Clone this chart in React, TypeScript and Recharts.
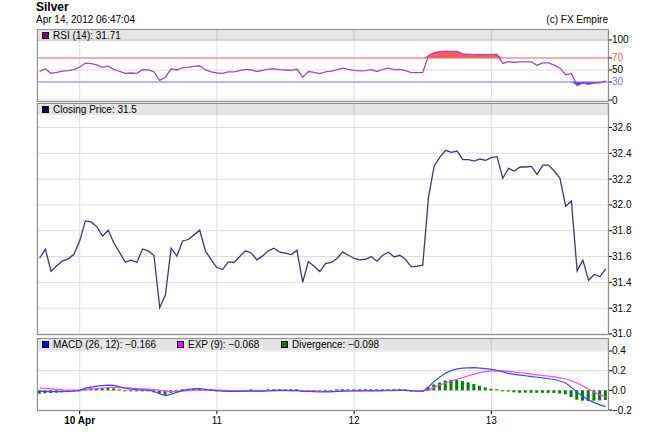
import React from "react";
import {
  ComposedChart,
  Line,
  Area,
  Bar,
  XAxis,
  YAxis,
  CartesianGrid,
  ReferenceLine,
} from "recharts";

// hours relative to 10 Apr 00:00
const HOURS = Array.from({ length: 100 }, (_, i) => i - 7);
const DAY_TICKS = [0, 24, 48, 72];
const DAY_LABELS = ["10 Apr", "11", "12", "13"];

const CLOSE = [
  31.587, 31.657, 31.486, 31.528, 31.566, 31.582, 31.618, 31.72, 31.876, 31.868,
  31.832, 31.757, 31.804, 31.703, 31.631, 31.556, 31.572, 31.554, 31.659, 31.644,
  31.608, 31.205, 31.303, 31.665, 31.603, 31.721, 31.732, 31.768, 31.804, 31.644,
  31.574, 31.515, 31.499, 31.559,
  31.554, 31.6, 31.644, 31.628, 31.574, 31.605, 31.644, 31.665, 31.634, 31.626,
  31.615, 31.649, 31.401, 31.561, 31.525, 31.484, 31.546, 31.554, 31.585, 31.636,
  31.61, 31.585, 31.574, 31.579, 31.6, 31.564, 31.61, 31.634, 31.597, 31.61,
  31.577, 31.52, 31.525,
  31.533, 32.057, 32.302, 32.371, 32.423, 32.408, 32.418, 32.351, 32.351, 32.34,
  32.356, 32.346, 32.366, 32.374, 32.206, 32.284, 32.263, 32.294, 32.294, 32.299,
  32.235, 32.309, 32.309, 32.263, 32.206, 31.99, 32.031, 31.489, 31.572, 31.417,
  31.461, 31.445, 31.505,
];

const RSI = [
  47.7, 51.7, 44.4, 46, 48, 49, 50.5, 55, 61.5, 60.5, 58.5, 54.5, 56.5, 51, 47.5,
  44.5, 45, 44.5, 50.5, 50, 47, 32.5, 38, 52, 50, 54, 54.5, 56, 57, 50, 47, 45,
  44.5, 47,
  47, 49, 51, 50, 47.5, 49.5, 51.5, 52, 50.5, 50, 49.5, 51.5, 38, 47.5, 46, 44,
  47, 48, 50, 53, 51, 49.5, 48.5, 49, 50.5, 47.5, 51, 53, 50.5, 51, 49, 45.5, 45.5,
  46, 74, 79, 80.5, 81.5, 81, 81, 77, 76.5, 75.5, 76, 75.5, 76, 76, 61, 64, 62.5,
  63.5, 63.5, 63.5, 58, 62, 62, 58, 53, 42, 44, 24, 28, 26, 28, 28.5, 31.71,
];

const MACD = [
  -0.01, -0.011, -0.013, -0.014, -0.014, -0.012, -0.008, 0.0, 0.022, 0.033, 0.042,
  0.048, 0.052, 0.05, 0.035, 0.022, 0.013, 0.008, 0.005, 0.002, -0.012, -0.035,
  -0.053, -0.038, -0.02, 0.0, 0.01, 0.015, 0.017, 0.01, 0.003, -0.003, -0.008, -0.01,
  -0.011, -0.01, -0.007, -0.006, -0.008, -0.007, -0.004, -0.001, -0.001, -0.001,
  -0.002, 0.0, -0.012, -0.012, -0.014, -0.017, -0.016, -0.015, -0.011, -0.006,
  -0.004, -0.004, -0.004, -0.004, -0.003, -0.004, -0.002, 0.001, 0.001, 0.002, 0.0,
  -0.005, -0.009,
  -0.011, 0.035, 0.09, 0.135, 0.175, 0.2, 0.218, 0.225, 0.229, 0.23, 0.226, 0.22,
  0.213, 0.203, 0.188, 0.173, 0.163, 0.155, 0.148, 0.14, 0.133, 0.126, 0.118, 0.11,
  0.095, 0.075, 0.03, -0.02, -0.06, -0.097, -0.125, -0.148, -0.166,
];

const EXP = [
  0.025, 0.019, 0.014, 0.009, 0.005, 0.003, 0.002, 0.002, 0.006, 0.012, 0.018,
  0.024, 0.029, 0.03, 0.029, 0.026, 0.022, 0.018, 0.015, 0.012, 0.008, 0.0, -0.008,
  -0.012, -0.012, -0.008, -0.004, -0.001, 0.002, 0.003, 0.003, 0.002, 0.0, -0.003,
  -0.005, -0.006, -0.006, -0.006, -0.006, -0.006, -0.006, -0.005, -0.004, -0.003,
  -0.003, -0.002, -0.004, -0.006, -0.007, -0.009, -0.011, -0.012, -0.011, -0.01,
  -0.009, -0.008, -0.007, -0.006, -0.005, -0.005, -0.004, -0.003, -0.002, -0.001,
  -0.001, -0.002, -0.003,
  -0.004, 0.003, 0.03, 0.055, 0.075, 0.095, 0.113, 0.13, 0.148, 0.165, 0.18, 0.19,
  0.197, 0.2, 0.198, 0.192, 0.186, 0.179, 0.172, 0.165, 0.158, 0.151, 0.144, 0.136,
  0.127, 0.115, 0.098, 0.075, 0.045, 0.012, -0.02, -0.046, -0.068,
];

const DIVERGENCE = [
  -0.035, -0.03, -0.027, -0.023, -0.019, -0.015, -0.01, -0.002, 0.016, 0.021, 0.024,
  0.024, 0.023, 0.02, 0.006, -0.004, -0.009, -0.01, -0.01, -0.01, -0.02, -0.035,
  -0.045, -0.026, -0.008, 0.008, 0.014, 0.016, 0.015, 0.007, 0.0, -0.005, -0.008,
  -0.007,
  -0.006, -0.004, -0.001, 0.0, -0.002, -0.001, 0.002, 0.004, 0.003, 0.002, 0.001,
  0.002, -0.008, -0.006, -0.007, -0.008, -0.005, -0.003, 0.0, 0.004, 0.005, 0.004,
  0.003, 0.002, 0.002, 0.001, 0.002, 0.004, 0.003, 0.003, 0.001, -0.003, -0.006,
  -0.007, 0.032, 0.06, 0.08, 0.1, 0.105, 0.105, 0.095, 0.081, 0.065, 0.046, 0.03,
  0.016, 0.006, -0.004, -0.012, -0.02, -0.024, -0.024, -0.025, -0.025, -0.025,
  -0.026, -0.026, -0.032, -0.04, -0.068, -0.095, -0.105, -0.109, -0.105, -0.102,
  -0.098,
];

const RSI_TICKS = [0, 30, 50, 70, 100];
const PRICE_TICKS = [31.0, 31.2, 31.4, 31.6, 31.8, 32.0, 32.2, 32.4, 32.6];
const MACD_TICKS = [-0.2, 0.0, 0.2, 0.4];

const rows = HOURS.map((t, i) => ({
  t,
  close: CLOSE[i],
  rsi: RSI[i],
  ob: [70, Math.max(RSI[i], 70)],
  os: [Math.min(RSI[i], 30), 30],
  macd: MACD[i],
  exp: EXP[i],
  div: DIVERGENCE[i],
}));

const FONT = '"Liberation Sans", Arial, sans-serif';
const X_DOMAIN: [number, number] = [-7.46, 92.4];
const GRID = "#dddddd";
// extra room under a panel so its lowest tick label is not clipped
const PAD = 7;

const minus = (s: string) => s.replace("-", "\u2212");

const RsiTick = (props: any) => {
  const { x, y, payload } = props;
  const v = payload.value;
  const fill = v === 70 ? "#ff6060" : v === 30 ? "#7070ff" : "#000";
  return (
    <text x={x} y={y} dy={3.5} fontSize={10} fill={fill} fontFamily={FONT}>
      {v}
    </text>
  );
};

const NumTick = (props: any) => {
  const { x, y, payload } = props;
  return (
    <text x={x} y={y} dy={3.5} fontSize={10} fill="#000" fontFamily={FONT}>
      {minus(payload.value.toFixed(1))}
    </text>
  );
};

const DayTick = (props: any) => {
  const { x, y, payload } = props;
  const i = DAY_TICKS.indexOf(payload.value);
  return (
    <text
      x={x}
      y={y}
      dy={8}
      fontSize={10}
      textAnchor="middle"
      fontWeight={i === 0 ? "bold" : "normal"}
      fill="#000"
      fontFamily={FONT}
    >
      {DAY_LABELS[i]}
    </text>
  );
};

function Header({ top, items }: { top: number; items: any[] }) {
  return (
    <div
      style={{
        position: "absolute",
        left: 38,
        top,
        width: 570,
        height: 11,
        background: "rgba(0,0,0,0.1)",
      }}
    >
      {items.map((it, i) => (
        <div
          key={i}
          style={{
            position: "absolute",
            left: it.x - 38,
            top: 0,
            height: 11,
            lineHeight: "11px",
            fontSize: 10,
            whiteSpace: "nowrap",
          }}
        >
          <span
            style={{
              display: "inline-block",
              width: 5,
              height: 5,
              background: it.color,
              border: "1px solid #000",
              marginRight: 4,
            }}
          />
          {it.label}
        </div>
      ))}
    </div>
  );
}

function Box({ top, height }: { top: number; height: number }) {
  return (
    <div
      style={{
        position: "absolute",
        left: 37,
        top,
        width: 570,
        height: height - 2,
        border: "1px solid #8c8c8c",
      }}
    />
  );
}

export default function App() {
  return (
    <div
      style={{
        position: "absolute",
        left: 0,
        top: 0,
        width: 645,
        height: 442,
        background: "#fff",
        fontFamily: FONT,
        color: "#000",
      }}
    >
      <div style={{ position: "absolute", left: 36, top: 0, fontSize: 12, fontWeight: "bold" }}>
        Silver
      </div>
      <div style={{ position: "absolute", left: 36, top: 14, fontSize: 10 }}>
        Apr 14, 2012 06:47:04
      </div>
      <div style={{ position: "absolute", right: 37, top: 14, fontSize: 10 }}>
        (c) FX Empire
      </div>

      {/* MACD */}
      <div style={{ position: "absolute", left: 0, top: 338 }}>
        <ComposedChart width={645} height={104} data={rows} margin={{ top: 0, right: 0, bottom: 0, left: 37 }}>
          <CartesianGrid stroke={GRID} />
          <XAxis
            dataKey="t"
            type="number"
            domain={X_DOMAIN}
            ticks={DAY_TICKS}
            interval={0}
            allowDataOverflow
            height={31}
            axisLine={false}
            tickLine={{ stroke: "#000" }}
            tickSize={3}
            tickMargin={2}
            tick={<DayTick />}
          />
          <YAxis
            orientation="right"
            width={37}
            domain={[-0.21, 0.532]}
            ticks={MACD_TICKS}
            interval={0}
            allowDataOverflow
            axisLine={false}
            tickLine={{ stroke: "#000" }}
            tickSize={4}
            tickMargin={0}
            tick={<NumTick />}
          />
          <Bar dataKey="div" fill="#008000" barSize={3} minPointSize={1} isAnimationActive={false} />
          <Line dataKey="exp" stroke="#ff44ff" strokeWidth={1.2} dot={false} isAnimationActive={false} />
          <Line dataKey="macd" stroke="#4444ff" strokeWidth={1.2} dot={false} isAnimationActive={false} />
        </ComposedChart>
      </div>

      {/* Closing price */}
      <div style={{ position: "absolute", left: 0, top: 103 }}>
        <ComposedChart width={645} height={232 + PAD} data={rows} margin={{ top: 0, right: 0, bottom: PAD, left: 37 }}>
          <CartesianGrid stroke={GRID} />
          <XAxis dataKey="t" type="number" domain={X_DOMAIN} ticks={DAY_TICKS} hide allowDataOverflow />
          <YAxis
            orientation="right"
            width={37}
            domain={[30.992, 32.79]}
            ticks={PRICE_TICKS}
            interval={0}
            allowDataOverflow
            axisLine={false}
            tickLine={{ stroke: "#000" }}
            tickSize={4}
            tickMargin={0}
            tick={<NumTick />}
          />
          <Line dataKey="close" stroke="#3a3a72" strokeWidth={1.3} dot={false} isAnimationActive={false} />
        </ComposedChart>
      </div>

      {/* RSI */}
      <div style={{ position: "absolute", left: 0, top: 29 }}>
        <ComposedChart width={645} height={73 + PAD} data={rows} margin={{ top: 0, right: 0, bottom: PAD, left: 37 }}>
          <CartesianGrid stroke={GRID} />
          <XAxis dataKey="t" type="number" domain={X_DOMAIN} ticks={DAY_TICKS} hide allowDataOverflow />
          <YAxis
            orientation="right"
            width={37}
            domain={[-3.33, 118.3]}
            ticks={RSI_TICKS}
            interval={0}
            allowDataOverflow
            axisLine={false}
            tickLine={{ stroke: "#000" }}
            tickSize={4}
            tickMargin={0}
            tick={<RsiTick />}
          />
          <ReferenceLine y={70} stroke="#ff7070" />
          <ReferenceLine y={30} stroke="#8080ff" />
          <Area dataKey="ob" stroke="none" fill="#ff5a5a" fillOpacity={1} isAnimationActive={false} />
          <Area dataKey="os" stroke="none" fill="#4040e0" fillOpacity={1} isAnimationActive={false} />
          <Line dataKey="rsi" stroke="#a04cb0" strokeWidth={1.3} dot={false} isAnimationActive={false} />
        </ComposedChart>
      </div>

      <Header top={30} items={[{ x: 42, color: "#800080", label: "RSI (14): 31.71" }]} />
      <Header top={104} items={[{ x: 42, color: "#000050", label: "Closing Price: 31.5" }]} />
      <Header
        top={339}
        items={[
          { x: 42, color: "#0000ff", label: "MACD (26, 12): \u22120.166" },
          { x: 177, color: "#ff00ff", label: "EXP (9): \u22120.068" },
          { x: 281, color: "#008000", label: "Divergence: \u22120.098" },
        ]}
      />

      <Box top={29} height={73} />
      <Box top={103} height={232} />
      <Box top={338} height={73} />
    </div>
  );
}
